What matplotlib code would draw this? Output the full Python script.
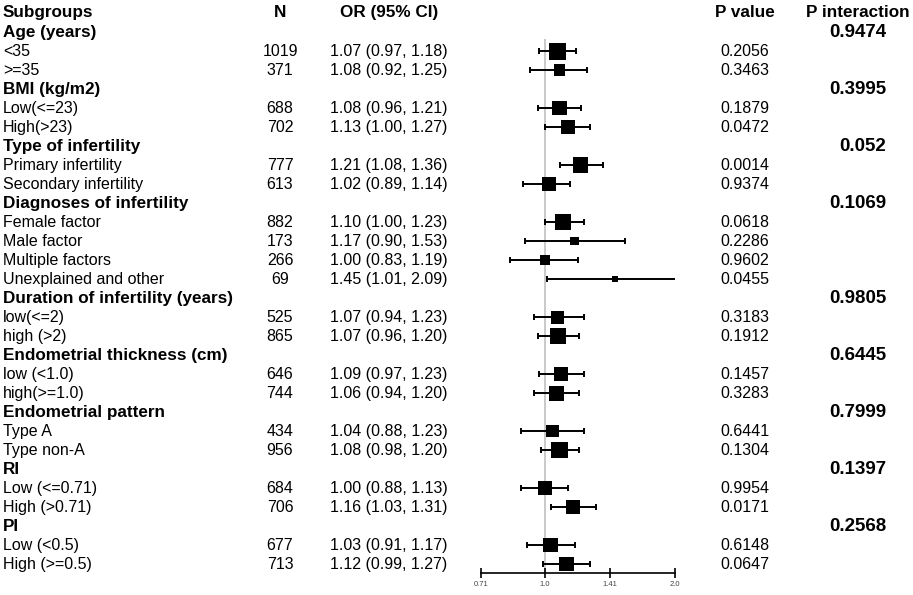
"""Forest plot of subgroup odds ratios."""

import matplotlib

matplotlib.use("Agg")
import matplotlib.pyplot as plt
import numpy as np
from matplotlib.transforms import blended_transform_factory

plt.rcParams["font.family"] = ["Liberation Sans", "DejaVu Sans"]

# data
groups = [
    "Age (years)",
    "BMI (kg/m2)",
    "Type of infertility",
    "Diagnoses of infertility",
    "Duration of infertility (years)",
    "Endometrial thickness (cm)",
    "Endometrial pattern",
    "RI",
    "PI",
]
p_interaction = ["0.9474", "0.3995", "0.052", "0.1069", "0.9805", "0.6445", "0.7999", "0.1397", "0.2568"]
subgroups = [
    ["<35", ">=35"],
    ["Low(<=23)", "High(>23)"],
    ["Primary infertility", "Secondary infertility"],
    ["Female factor", "Male factor", "Multiple factors", "Unexplained and other"],
    ["low(<=2)", "high (>2)"],
    ["low (<1.0)", "high(>=1.0)"],
    ["Type A", "Type non-A"],
    ["Low (<=0.71)", "High (>0.71)"],
    ["Low (<0.5)", "High (>=0.5)"],
]
n_values = [1019, 371, 688, 702, 777, 613, 882, 173, 266, 69,
            525, 865, 646, 744, 434, 956, 684, 706, 677, 713]
odds_ratio = [1.07, 1.08, 1.08, 1.13, 1.21, 1.02, 1.10, 1.17, 1.00, 1.45,
              1.07, 1.07, 1.09, 1.06, 1.04, 1.08, 1.00, 1.16, 1.03, 1.12]
ci_low = [0.97, 0.92, 0.96, 1.00, 1.08, 0.89, 1.00, 0.90, 0.83, 1.01,
          0.94, 0.96, 0.97, 0.94, 0.88, 0.98, 0.88, 1.03, 0.91, 0.99]
ci_high = [1.18, 1.25, 1.21, 1.27, 1.36, 1.14, 1.23, 1.53, 1.19, 2.09,
           1.23, 1.20, 1.23, 1.20, 1.23, 1.20, 1.13, 1.31, 1.17, 1.27]
p_values = [0.2056, 0.3463, 0.1879, 0.0472, 0.0014, 0.9374, 0.0618, 0.2286, 0.9602, 0.0455,
            0.3183, 0.1912, 0.1457, 0.3283, 0.6441, 0.1304, 0.9954, 0.0171, 0.6148, 0.0647]
x_ticks = [0.71, 1.0, 1.41, 2.0]
x_tick_labels = ["0.71", "1.0", "1.41", "2.0"]

W, H = 913, 595
fig = plt.figure(figsize=(W / 100, H / 100), dpi=100)
ax = fig.add_axes([481 / W, 1 - 573 / H, 194 / W, 573 / H])
ax.patch.set_visible(False)
ax.set_xscale("log")
ax.set_xlim(0.71, 2.0)
ax.set_ylim(29.47, -0.684)
for side in ["left", "right", "top"]:
    ax.spines[side].set_visible(False)
ax.spines["bottom"].set_linewidth(1.2)
ax.set_yticks([])
ax.set_xticks(x_ticks)
ax.set_xticklabels(x_tick_labels)
ax.minorticks_off()
ax.tick_params(axis="x", direction="inout", length=7, width=1.2, pad=2, labelsize=5.5, labelcolor="#444444")

trans = blended_transform_factory(fig.transFigure, ax.transData)
head_kw = dict(fontsize=12.3, fontweight="bold", va="center", transform=trans)
body_kw = dict(fontsize=11.5, va="center", transform=trans)

# header row
ax.text(3 / W, 0, "Subgroups", ha="left", **head_kw)
ax.text(280 / W, 0, "N", ha="center", **head_kw)
ax.text(389 / W, 0, "OR (95% CI)", ha="center", **head_kw)
ax.text(745 / W, 0, "P value", ha="center", **head_kw)
ax.text(858 / W, 0, "P interaction", ha="center", **head_kw)

rows = []
row = 1
k = 0
for g, name in enumerate(groups):
    ax.text(3 / W, row, name, ha="left", **head_kw)
    ax.text(886 / W, row, p_interaction[g], ha="right", fontsize=13.5, fontweight="bold",
            va="center", transform=trans)
    row += 1
    for label in subgroups[g]:
        ax.text(3 / W, row, label, ha="left", **body_kw)
        ax.text(280 / W, row, str(n_values[k]), ha="center", **body_kw)
        ax.text(389 / W, row, f"{odds_ratio[k]:.2f} ({ci_low[k]:.2f}, {ci_high[k]:.2f})",
                ha="center", **body_kw)
        ax.text(745 / W, row, f"{p_values[k]:.4f}", ha="center", **body_kw)
        rows.append(row)
        row += 1
        k += 1

rows = np.array(rows)
est = np.array(odds_ratio)
lo = np.array(ci_low)
hi = np.array(ci_high)
n = np.array(n_values)

ax.vlines(1.0, 1.35, 29.47, color="#c0c0c0", lw=1.2, zorder=0)
ax.errorbar(est, rows, xerr=[est - lo, hi - est], fmt="none", ecolor="black",
            elinewidth=1.4, capsize=2.4, capthick=1.4, zorder=2)
side_pt = 17 * (n / n.max()) ** 0.4 * 0.72
ax.scatter(est, rows, s=side_pt ** 2, marker="s", color="black", linewidths=0, zorder=3)

fig.savefig("out.png", dpi=100)
